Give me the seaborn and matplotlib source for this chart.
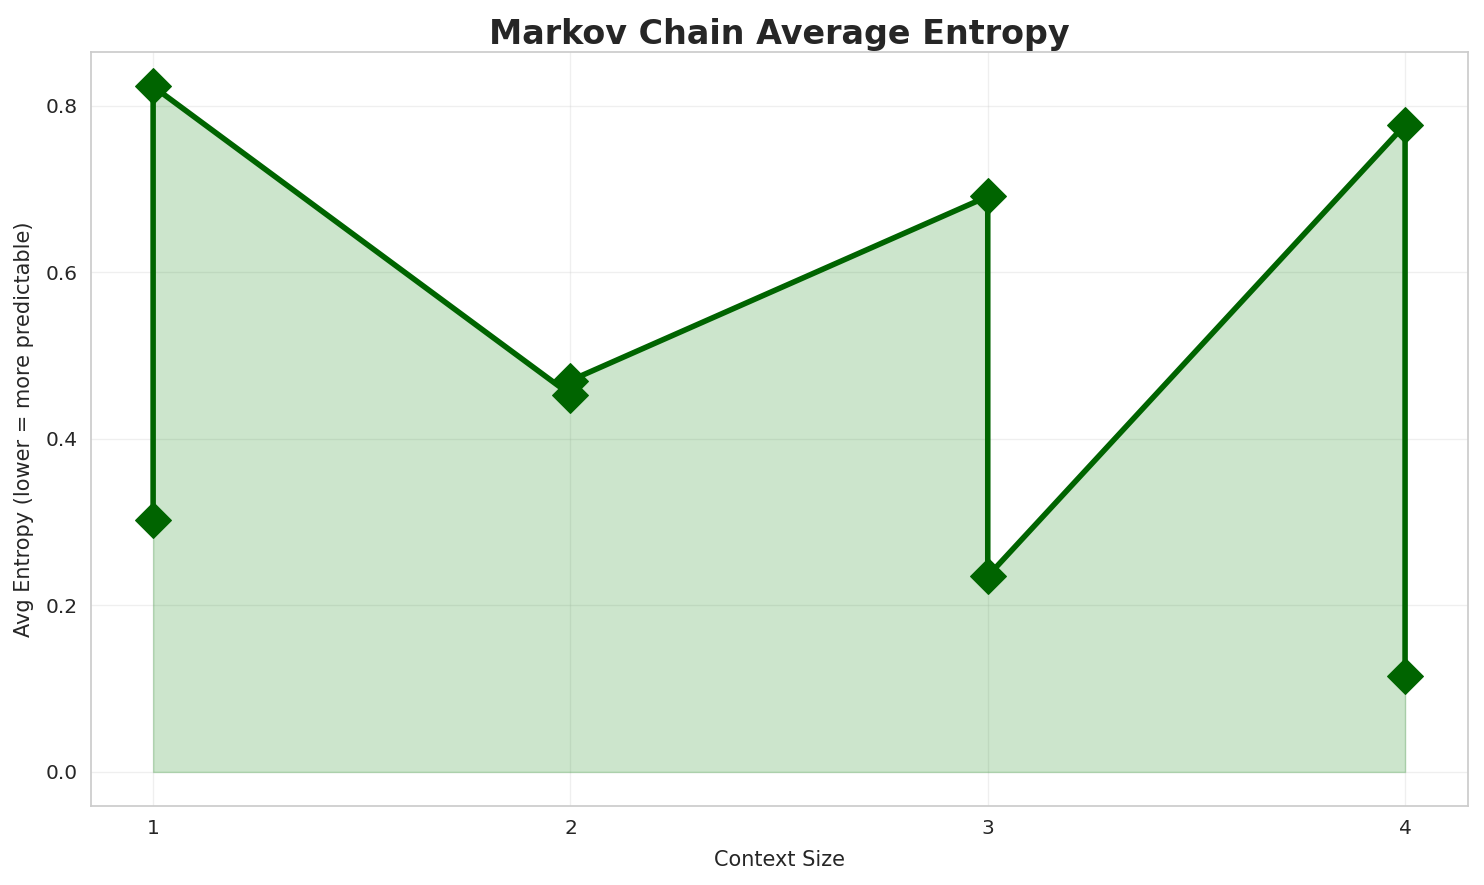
import matplotlib
matplotlib.use("Agg")
import matplotlib.pyplot as plt
import seaborn as sns
import pandas as pd

# Context sizes and average entropy values (in plotting order)
context_size = [1, 1, 2, 2, 3, 3, 4, 4]
avg_entropy = [0.302, 0.823, 0.453, 0.470, 0.691, 0.235, 0.777, 0.115]

df = pd.DataFrame({'context': context_size, 'entropy': avg_entropy})

sns.set_theme(style='whitegrid')
plt.rcParams['font.family'] = ['DejaVu Sans']

fig, ax = plt.subplots(figsize=(14.84, 8.85), dpi=100)
fig.subplots_adjust(left=0.061, right=0.989, top=0.941, bottom=0.089)

ax.fill_between(df['context'], df['entropy'], color='green', alpha=0.2)
sns.lineplot(data=df, x='context', y='entropy', sort=False, estimator=None,
             color='darkgreen', linewidth=4, marker='D', markersize=18,
             markeredgecolor='darkgreen', ax=ax)

ax.set_title('Markov Chain Average Entropy', fontsize=24, fontweight='bold')
ax.set_xlabel('Context Size', fontsize=15, labelpad=8)
ax.set_ylabel('Avg Entropy (lower = more predictable)', fontsize=15, labelpad=8)
ax.set_xticks([1, 2, 3, 4])
ax.tick_params(labelsize=14.5)
ax.grid(True, alpha=0.3)

plt.savefig('out.png')
